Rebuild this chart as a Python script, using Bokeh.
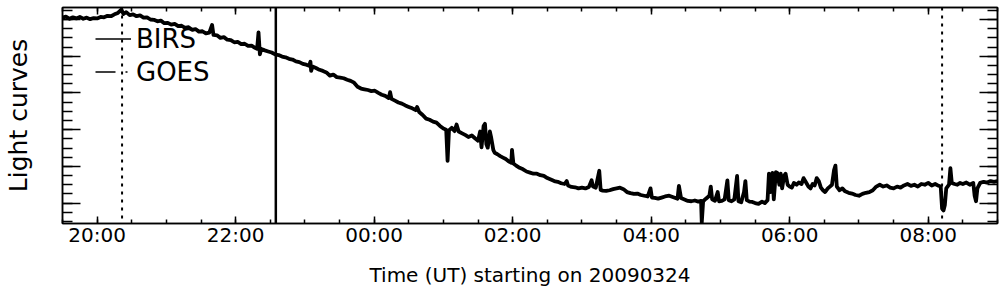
from bokeh.plotting import figure
from bokeh.models import (LinearAxis, FixedTicker, Span, Legend, LegendItem,
                          CustomJSTickFormatter, ColumnDataSource)
from bokeh.embed import file_html
from bokeh.resources import INLINE

# ---- data (time in hours since 2009-03-24 00:00 UT; relative light-curve level) ----
birs_t = [19.50,19.55,19.60,19.65,19.70,19.75,19.80,19.85,19.90,19.95,
          20.00,20.05,20.10,20.15,20.20,20.25,20.30,20.35,20.38,20.42,
          20.47,20.52,20.57,20.62,20.67,20.72,20.77,20.82,20.87,20.92,
          20.97,21.02,21.07,21.12,21.17,21.22,21.27,21.32,21.37,21.42,
          21.47,21.52,21.57,21.62,21.66,21.68,21.73,21.78,21.83,21.88,
          21.93,21.98,22.03,22.08,22.13,22.18,22.23,22.28,22.31,22.33,
          22.35,22.37,22.42,22.47,22.52,22.57,22.62,22.67,22.72,22.77,
          22.82,22.87,22.92,22.97,23.02,23.06,23.08,23.09,23.11,23.16,
          23.21,23.26,23.31,23.36,23.41,23.46,23.51,23.56,23.61,23.66,
          23.71,23.76,23.81,23.86,23.91,23.96,24.01,24.06,24.11,24.16,
          24.21,24.23,24.25,24.30,24.35,24.40,24.45,24.50,24.55,24.60,
          24.62,24.65,24.70,24.75,24.80,24.85,24.90,24.95,25.00,25.04,
          25.06,25.08,25.12,25.16,25.19,25.22,25.27,25.32,25.36,25.41,
          25.46,25.50,25.53,25.55,25.58,25.60,25.62,25.64,25.67,25.69,
          25.72,25.74,25.78,25.82,25.86,25.90,25.94,25.98,25.99,26.01,
          26.05,26.10,26.15,26.20,26.25,26.30,26.35,26.40,26.45,26.50,
          26.55,26.60,26.65,26.70,26.75,26.78,26.80,26.85,26.90,26.95,
          27.00,27.05,27.10,27.14,27.16,27.20,27.25,27.27,27.30,27.35,
          27.40,27.45,27.50,27.55,27.60,27.65,27.70,27.75,27.80,27.85,
          27.90,27.95,27.99,28.01,28.05,28.10,28.15,28.20,28.26,28.32,
          28.38,28.40,28.43,28.48,28.53,28.58,28.63,28.68,28.72,28.73,
          28.75,28.79,28.84,28.86,28.88,28.92,28.96,28.98,29.02,29.06,
          29.10,29.12,29.16,29.20,29.24,29.26,29.30,29.34,29.36,29.38,
          29.42,29.46,29.50,29.55,29.60,29.64,29.68,29.70,29.72,29.75,
          29.77,29.80,29.82,29.85,29.87,29.89,29.92,29.94,29.97,30.00,
          30.03,30.06,30.10,30.13,30.17,30.20,30.23,30.27,30.30,30.33,
          30.36,30.39,30.42,30.45,30.48,30.51,30.55,30.58,30.61,30.64,
          30.66,30.68,30.72,30.76,30.80,30.85,30.90,30.95,31.00,31.05,
          31.10,31.15,31.20,31.25,31.30,31.35,31.40,31.45,31.50,31.55,
          31.60,31.65,31.70,31.75,31.80,31.85,31.90,31.95,32.00,32.05,
          32.10,32.15,32.18,32.20,32.22,32.24,32.26,32.30,32.32,32.34,
          32.38,32.42,32.46,32.50,32.55,32.60,32.65,32.67,32.69,32.71,
          32.75,32.80,32.85,32.90,32.95,33.00]

birs_v = [6.05,6.08,6.02,6.06,6.03,6.07,6.02,6.05,6.01,6.04,
          6.03,6.07,6.06,6.10,6.09,6.14,6.18,6.27,6.15,6.20,
          6.12,6.14,6.09,6.11,6.05,6.06,6.00,5.99,5.95,5.97,
          5.90,5.91,5.86,5.88,5.82,5.83,5.77,5.79,5.72,5.74,
          5.67,5.68,5.62,5.64,5.85,5.58,5.57,5.50,5.52,5.45,
          5.44,5.38,5.39,5.33,5.34,5.28,5.29,5.23,5.20,5.65,
          5.05,5.20,5.16,5.13,5.10,5.05,5.03,4.99,4.97,4.93,
          4.91,4.86,4.84,4.79,4.77,4.74,4.85,4.60,4.72,4.68,
          4.63,4.60,4.56,4.47,4.50,4.43,4.42,4.40,4.36,4.33,
          4.28,4.17,4.12,4.10,4.08,4.05,4.06,4.00,3.95,3.92,
          3.86,4.02,3.84,3.79,3.74,3.71,3.66,3.62,3.58,3.53,
          3.62,3.48,3.40,3.30,3.27,3.22,3.19,3.10,3.03,3.00,
          2.15,2.98,3.05,2.96,3.14,2.95,2.90,2.85,2.80,2.84,
          2.76,2.70,2.95,2.52,3.10,3.16,2.60,2.51,2.95,2.78,
          2.45,2.37,2.33,2.28,2.24,2.20,2.14,2.10,2.45,2.08,
          2.02,1.96,1.92,1.86,1.83,1.80,1.80,1.76,1.74,1.68,
          1.64,1.60,1.58,1.54,1.52,1.60,1.48,1.44,1.43,1.40,
          1.42,1.40,1.44,1.62,1.45,1.42,1.88,1.36,1.34,1.33,
          1.35,1.38,1.40,1.42,1.38,1.30,1.27,1.25,1.26,1.22,
          1.20,1.18,1.40,1.15,1.14,1.12,1.15,1.18,1.20,1.16,
          1.12,1.47,1.14,1.10,1.06,1.05,1.07,1.04,1.06,0.47,
          1.05,1.12,1.20,1.45,1.10,1.06,1.30,1.05,1.06,1.10,
          1.62,1.08,1.05,1.10,1.74,1.05,1.02,1.30,1.60,1.08,
          1.04,1.03,1.00,0.98,1.04,1.00,1.08,1.80,1.30,1.82,
          1.10,1.84,1.82,1.50,1.80,1.40,1.75,1.80,1.50,1.45,
          1.42,1.55,1.50,1.56,1.52,1.68,1.58,1.45,1.40,1.52,
          1.48,1.68,1.60,1.42,1.35,1.30,1.40,1.45,1.50,1.90,
          2.02,1.45,1.35,1.40,1.32,1.28,1.26,1.22,1.20,1.25,
          1.28,1.30,1.35,1.45,1.50,1.45,1.48,1.42,1.40,1.45,
          1.42,1.48,1.52,1.47,1.50,1.45,1.52,1.50,1.55,1.48,
          1.52,1.47,1.45,0.85,0.80,0.95,1.40,1.50,1.95,1.55,
          1.52,1.50,1.55,1.52,1.56,1.50,1.55,1.20,1.05,1.40,
          1.55,1.58,1.56,1.60,1.58,1.60]

# GOES curve: off-scale within the window, appears as a single vertical trace
goes_t = [22.58, 22.58]
goes_v = [-10.0, 20.0]

# event markers (dotted verticals)
marker_t = [20.36, 32.20]

x_major = [20, 22, 24, 26, 28, 30, 32]
x_labels = ["20:00", "22:00", "00:00", "02:00", "04:00", "06:00", "08:00"]
y_major = [1, 2, 3, 4, 5, 6]

assert len(birs_t) == len(birs_v)

FONT = "DejaVu Sans"

p = figure(width=1004, height=296, x_range=(19.5, 33.0), y_range=(0.444, 6.327),
           output_backend="svg", toolbar_location=None,
           min_border_left=62, min_border_right=7, min_border_top=7, min_border_bottom=73)
p.xgrid.visible = False
p.ygrid.visible = False
p.outline_line_color = "black"
p.outline_line_width = 1.5
p.background_fill_color = "white"
p.border_fill_color = "white"

x_minor = [19.5 + 0.5 * i for i in range(28)]
y_minor = [0.5 + 0.25 * i for i in range(24)]
xt = FixedTicker(ticks=x_major, minor_ticks=x_minor)
yt = FixedTicker(ticks=y_major, minor_ticks=y_minor)

def style(ax, ticker, maj, mnr):
    ax.ticker = ticker
    ax.major_tick_in = maj
    ax.major_tick_out = 0
    ax.minor_tick_in = mnr
    ax.minor_tick_out = 0
    ax.axis_line_width = 1.5
    ax.major_tick_line_width = 1.5
    ax.minor_tick_line_width = 1.5
    ax.axis_line_color = "black"
    ax.major_tick_line_color = "black"
    ax.minor_tick_line_color = "black"

def hide_labels(ax):
    ax.formatter = CustomJSTickFormatter(code="return ''")
    ax.major_label_text_font_size = "0px"
    ax.major_label_standoff = 0

# bottom axis
xb = p.xaxis[0]
style(xb, xt, 7, 4)
xb.major_label_overrides = {float(k): s for k, s in zip(x_major, x_labels)}
xb.major_label_text_font = FONT
xb.major_label_text_font_size = "20px"
xb.major_label_text_color = "black"
xb.major_label_standoff = -1
xb.axis_label = "Time (UT) starting on 20090324"
xb.axis_label_text_font = FONT
xb.axis_label_text_font_size = "20px"
xb.axis_label_text_font_style = "normal"
xb.axis_label_text_color = "black"
xb.axis_label_standoff = 13

# left axis
yl = p.yaxis[0]
style(yl, yt, 18, 10)
hide_labels(yl)
yl.axis_label = "Light curves"
yl.axis_label_text_font = FONT
yl.axis_label_text_font_size = "25px"
yl.axis_label_text_font_style = "normal"
yl.axis_label_text_color = "black"
yl.axis_label_standoff = 30

# top and right mirror axes
xtop = LinearAxis()
style(xtop, xt, 7, 4)
hide_labels(xtop)
p.add_layout(xtop, "above")
yr = LinearAxis()
style(yr, yt, 18, 10)
hide_labels(yr)
p.add_layout(yr, "right")

# event markers
for t in marker_t:
    p.add_layout(Span(location=t, dimension="height", line_color="black",
                      line_width=2, line_dash="3 5"))

src = ColumnDataSource(dict(t=birs_t, v=birs_v))
gsrc = ColumnDataSource(dict(t=goes_t, v=goes_v))

# thin versions used for legend samples (hidden beneath the drawn curves)
birs_leg = p.line("t", "v", source=src, line_color="black", line_width=1.5)
goes_leg = p.line("t", "v", source=gsrc, line_color="black", line_width=1.5,
                  line_dash="20 10 2 10")
p.line("t", "v", source=src, line_color="black", line_width=3.8, line_join="round")
p.line("t", "v", source=gsrc, line_color="black", line_width=2.5)

legend = Legend(items=[LegendItem(label="BIRS", renderers=[birs_leg]),
                       LegendItem(label="GOES", renderers=[goes_leg])],
                location=(33, 135))
legend.border_line_color = None
legend.background_fill_alpha = 0
legend.padding = 0
legend.margin = 0
legend.spacing = 0
legend.glyph_width = 36
legend.glyph_height = 33
legend.label_height = 33
legend.label_standoff = 5
legend.label_text_font = FONT
legend.label_text_font_size = "26px"
legend.label_text_color = "black"
p.add_layout(legend, "center")

open("out.html", "w").write(file_html(p, INLINE))
